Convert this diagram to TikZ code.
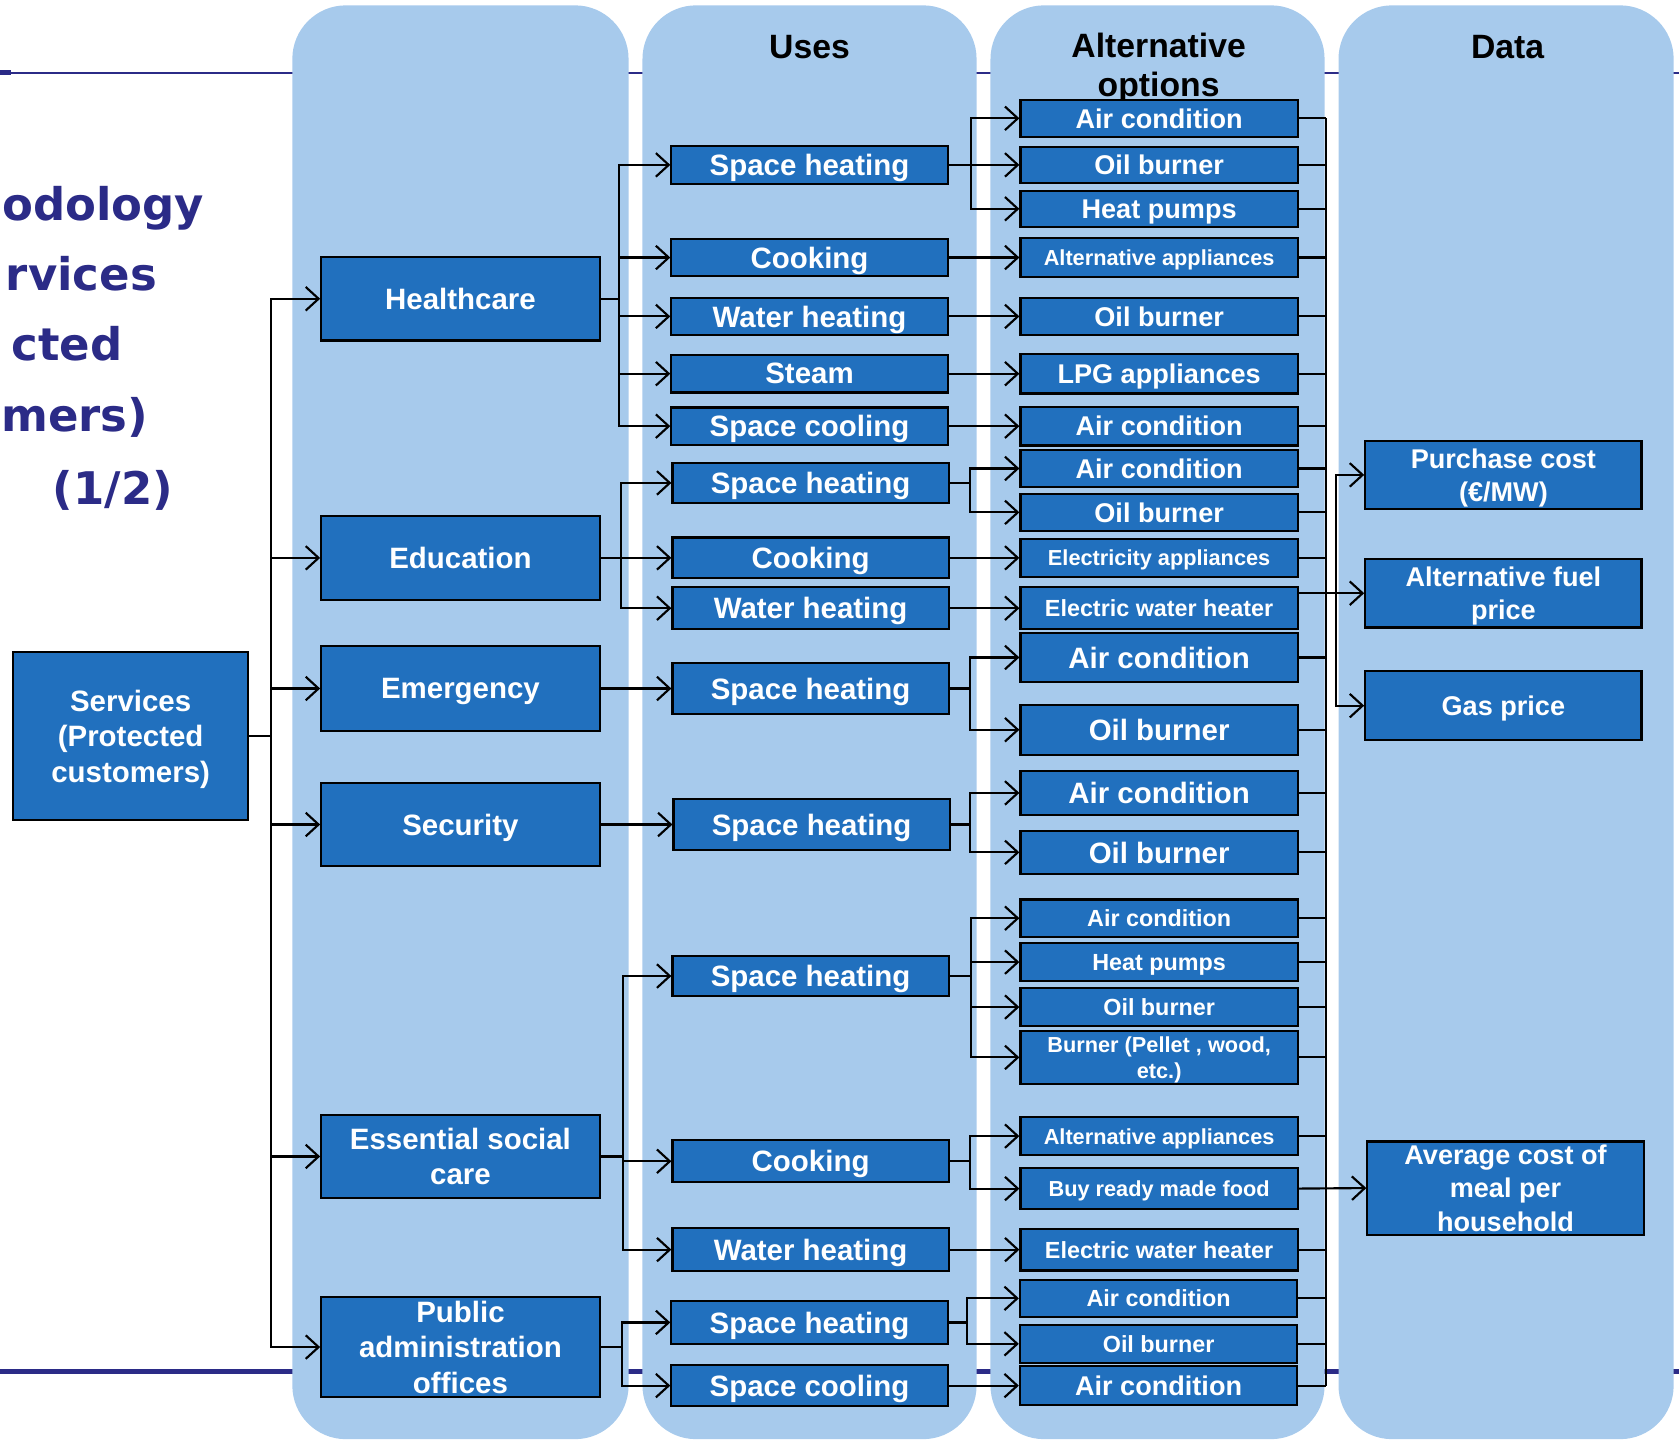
\documentclass[tikz,border=0pt]{standalone}
\usepackage{fontspec}
\setmainfont{Liberation Sans}
\newfontfamily\titlefont{DejaVu Sans}
\usetikzlibrary{arrows.meta}
\definecolor{colsfondo}{RGB}{167,202,236}
\definecolor{blusc}{RGB}{33,112,190}
\definecolor{navy}{RGB}{43,43,135}
\newcommand{\sizeH}{\fontsize{31.5}{36}\selectfont}
\newcommand{\sizeT}{\fontsize{42}{66}\selectfont}
\newcommand{\sizeL}{\fontsize{27.5}{33}\selectfont}
\newcommand{\sizeM}{\fontsize{25.3}{31}\selectfont}
\newcommand{\sizeS}{\fontsize{21.8}{26}\selectfont}
\newcommand{\sizeXS}{\fontsize{20.3}{24}\selectfont}

\begin{document}
\begin{tikzpicture}[x=1pt, y=-1pt,
    colonna/.style={fill=colsfondo, rounded corners=50pt},
    scatola/.style={draw=black, line width=2pt, fill=blusc, text=white, font=\bfseries\sizeL, align=center, inner sep=0pt, text depth=0pt, minimum width=258pt},
    cat/.style={scatola, minimum width=260pt, minimum height=78pt},
    uso/.style={scatola, minimum height=35pt},
    alt/.style={scatola, minimum width=259pt, minimum height=35pt, font=\bfseries\sizeM},
    dato/.style={scatola, minimum height=64pt, font=\bfseries\sizeM},
    freccia/.style={line width=2pt, -{Straight Barb[length=12pt, width=22pt]}},
    linea/.style={line width=2pt},
    titolo/.style={anchor=base east, text=navy, font=\titlefont\bfseries\sizeT},
    intest/.style={font=\bfseries\sizeH, align=center}]
    \useasboundingbox (0,0) rectangle (1568,1344);
    %disegno linee di sfondo
        \draw[navy, line width=2pt] (0,68) -- (1568,68);
        \fill[navy] (0,65.5) rectangle (10,70.5);
        \draw[navy, line width=5pt] (0,1281) -- (1568,1281);
    %disegno colonne
        \fill[colonna] (273,5) rectangle (587,1344);
        \fill[colonna] (600,5) rectangle (912,1344);
        \fill[colonna] (925,5) rectangle (1237,1344);
        \fill[colonna] (1250,5) rectangle (1563,1344);
    %titolo
        \node[titolo] (t1) at (194,206) {odology};
        \node[titolo] (t2) at (150,271) {rvices};
        \node[titolo] (t3) at (118,337) {cted};
        \node[titolo] (t4) at (142,403) {mers)};
        \node[titolo] (t5) at (165,471) {(1/2)};
    %intestazioni
        \node[intest] (husi) at (756,44) {Uses};
        \node[intest] (halt) at (1082,64) {Alternative\\options};
        \node[intest] (hdati) at (1408,44) {Data};
    %servizi e categorie
        \node[scatola, minimum width=220pt, minimum height=157pt] (serv) at (122,687.5) {Services\\(Protected\\customers)};
        \node[cat] (health) at (430,279) {Healthcare};
        \node[cat] (edu) at (430,521) {Education};
        \node[cat, minimum height=79pt] (emer) at (430,643) {Emergency};
        \node[cat, minimum height=77pt] (secu) at (430,770) {Security};
        \node[cat] (social) at (430,1080) {Essential social\\care};
        \node[cat, minimum height=94pt] (pubadm) at (430,1258) {Public\\administration\\offices};
    %usi
        \node[uso] (hsh) at (756,154) {Space heating};
        \node[uso] (hcook) at (756,240.5) {Cooking};
        \node[uso] (hwh) at (756,295.5) {Water heating};
        \node[uso] (hsteam) at (756,349) {Steam};
        \node[uso] (hsc) at (756,398) {Space cooling};
        \node[uso, minimum height=38pt] (esh) at (757,451) {Space heating};
        \node[uso, minimum height=38pt] (ecook) at (757,521) {Cooking};
        \node[uso, minimum height=39pt] (ewh) at (757,568) {Water heating};
        \node[uso, minimum height=48pt] (emsh) at (757,643) {Space heating};
        \node[uso, minimum height=47pt] (sesh) at (758,770) {Space heating};
        \node[uso, minimum height=37pt] (ssh) at (757,911.5) {Space heating};
        \node[uso, minimum height=39pt] (scook) at (757,1084.5) {Cooking};
        \node[uso, minimum height=40pt] (swh) at (757,1167) {Water heating};
        \node[uso, minimum height=40pt] (psh) at (756,1235) {Space heating};
        \node[uso, minimum height=38pt] (psc) at (756,1294) {Space cooling};
    %opzioni alternative
        \node[alt] (hsh-ac) at (1082.5,110.5) {Air condition};
        \node[alt, minimum height=34pt] (hsh-ob) at (1082.5,154) {Oil burner};
        \node[alt, minimum height=34pt] (hsh-hp) at (1082.5,195) {Heat pumps};
        \node[alt, minimum height=37pt, font=\bfseries\sizeXS] (hcook-aa) at (1082.5,240.5) {Alternative appliances};
        \node[alt] (hwh-ob) at (1082.5,295.5) {Oil burner};
        \node[alt, minimum height=37pt] (hsteam-lpg) at (1082.5,349) {LPG appliances};
        \node[alt, minimum height=36pt] (hsc-ac) at (1082.5,398) {Air condition};
        \node[alt] (esh-ac) at (1082.5,437.5) {Air condition};
        \node[alt] (esh-ob) at (1082.5,478.5) {Oil burner};
        \node[alt, minimum height=36pt, font=\bfseries\sizeXS] (ecook-ea) at (1082.5,521) {Electricity appliances};
        \node[alt, minimum height=39pt, font=\bfseries\sizeS] (ewh-ewh) at (1082.5,568) {Electric water heater};
        \node[alt, minimum height=46pt, font=\bfseries\sizeL] (emsh-ac) at (1082.5,614) {Air condition};
        \node[alt, minimum height=47pt, font=\bfseries\sizeL] (emsh-ob) at (1082.5,681.5) {Oil burner};
        \node[alt, minimum height=41pt, font=\bfseries\sizeL] (sesh-ac) at (1082.5,740.5) {Air condition};
        \node[alt, minimum height=40pt, font=\bfseries\sizeL] (sesh-ob) at (1082.5,796) {Oil burner};
        \node[alt, font=\bfseries\sizeS] (ssh-ac) at (1082.5,857.5) {Air condition};
        \node[alt, font=\bfseries\sizeS] (ssh-hp) at (1082.5,898.5) {Heat pumps};
        \node[alt, font=\bfseries\sizeS] (ssh-ob) at (1082.5,940.5) {Oil burner};
        \node[alt, minimum height=49pt, font=\bfseries\sizeXS] (ssh-bu) at (1082.5,987.5) {Burner (Pellet , wood,\\etc.)};
        \node[alt, minimum height=36pt, font=\bfseries\sizeXS] (scook-aa) at (1082.5,1061) {Alternative appliances};
        \node[alt, minimum height=38pt, font=\bfseries\sizeXS] (scook-bf) at (1082.5,1110) {Buy ready made food};
        \node[alt, minimum height=39pt, font=\bfseries\sizeS] (swh-ewh) at (1082.5,1167) {Electric water heater};
        \node[alt, font=\bfseries\sizeS] (psh-ac) at (1082,1212.5) {Air condition};
        \node[alt, minimum height=36pt, font=\bfseries\sizeS] (psh-ob) at (1082,1255) {Oil burner};
        \node[alt, minimum height=36pt] (psc-ac) at (1082,1294) {Air condition};
    %dati
        \node[dato, minimum height=63pt] (purch) at (1404,443.5) {Purchase cost\\(€/MW)};
        \node[dato] (fuel) at (1404,554) {Alternative fuel\\price};
        \node[dato] (gas) at (1404,659) {Gas price};
        \node[dato, minimum height=87pt] (meal) at (1406,1109.5) {Average cost of\\meal per\\household};
    %tronco principale
        \coordinate (tr) at (253,687.5);
        \draw[linea] (serv.east) -- (tr);
        \draw[freccia] (tr) |- (health.west);
        \draw[freccia] (tr) |- (edu.west);
        \draw[freccia] (tr) |- (emer.west);
        \draw[freccia] (tr) |- (secu.west);
        \draw[freccia] (tr) |- (social.west);
        \draw[freccia] (tr) |- (pubadm.west);
    %categorie verso usi
        \coordinate (hf) at (578,279);
        \draw[linea] (health.east) -- (hf);
        \draw[freccia] (hf) |- (hsh.west);
        \draw[freccia] (hf) |- (hcook.west);
        \draw[freccia] (hf) |- (hwh.west);
        \draw[freccia] (hf) |- (hsteam.west);
        \draw[freccia] (hf) |- (hsc.west);
        \coordinate (ef) at (580,521);
        \draw[linea] (edu.east) -- (ef);
        \draw[freccia] (ef) |- (esh.west);
        \draw[freccia] (ef) -- (ecook.west);
        \draw[freccia] (ef) |- (ewh.west);
        \draw[freccia] (emer.east) -- (emsh.west);
        \draw[freccia] (secu.east) -- (sesh.west);
        \coordinate (sf) at (582,1080);
        \draw[linea] (social.east) -- (sf);
        \draw[freccia] (sf) |- (ssh.west);
        \draw[freccia] (sf) |- (scook.west);
        \draw[freccia] (sf) |- (swh.west);
        \coordinate (pf) at (581,1258);
        \draw[linea] (pubadm.east) -- (pf);
        \draw[freccia] (pf) |- (psh.west);
        \draw[freccia] (pf) |- (psc.west);
    %usi verso opzioni
        \coordinate (hshf) at (907,154);
        \draw[linea] (hsh.east) -- (hshf);
        \draw[freccia] (hshf) |- (hsh-ac.west);
        \draw[freccia] (hshf) -- (hsh-ob.west);
        \draw[freccia] (hshf) |- (hsh-hp.west);
        \draw[freccia] (hcook.east) -- (hcook-aa.west);
        \draw[freccia] (hwh.east) -- (hwh-ob.west);
        \draw[freccia] (hsteam.east) -- (hsteam-lpg.west);
        \draw[freccia] (hsc.east) -- (hsc-ac.west);
        \coordinate (eshf) at (906,451);
        \draw[linea] (esh.east) -- (eshf);
        \draw[freccia] (eshf) |- (esh-ac.west);
        \draw[freccia] (eshf) |- (esh-ob.west);
        \draw[freccia] (ecook.east) -- (ecook-ea.west);
        \draw[freccia] (ewh.east) -- (ewh-ewh.west);
        \coordinate (emshf) at (906,643);
        \draw[linea] (emsh.east) -- (emshf);
        \draw[freccia] (emshf) |- (emsh-ac.west);
        \draw[freccia] (emshf) |- (emsh-ob.west);
        \coordinate (seshf) at (906,770);
        \draw[linea] (sesh.east) -- (seshf);
        \draw[freccia] (seshf) |- (sesh-ac.west);
        \draw[freccia] (seshf) |- (sesh-ob.west);
        \coordinate (sshf) at (907,911.5);
        \draw[linea] (ssh.east) -- (sshf);
        \draw[freccia] (sshf) |- (ssh-ac.west);
        \draw[freccia] (sshf) |- (ssh-hp.west);
        \draw[freccia] (sshf) |- (ssh-ob.west);
        \draw[freccia] (sshf) |- (ssh-bu.west);
        \coordinate (scookf) at (906,1084.5);
        \draw[linea] (scook.east) -- (scookf);
        \draw[freccia] (scookf) |- (scook-aa.west);
        \draw[freccia] (scookf) |- (scook-bf.west);
        \draw[freccia] (swh.east) -- (swh-ewh.west);
        \coordinate (pshf) at (903,1235);
        \draw[linea] (psh.east) -- (pshf);
        \draw[freccia] (pshf) |- (psh-ac.west);
        \draw[freccia] (pshf) |- (psh-ob.west);
        \draw[freccia] (psc.east) -- (psc-ac.west);
    %collettore verso dati
        \coordinate (coll) at (1238,0);
        \draw[linea] (hsh-ac.east -| coll) -- (psc-ac.east -| coll);
        \draw[linea] (hsh-ac.east) -- (hsh-ac.east -| coll)  (hsh-ob.east) -- (hsh-ob.east -| coll)
            (hsh-hp.east) -- (hsh-hp.east -| coll)  (hcook-aa.east) -- (hcook-aa.east -| coll)
            (hwh-ob.east) -- (hwh-ob.east -| coll)  (hsteam-lpg.east) -- (hsteam-lpg.east -| coll)
            (hsc-ac.east) -- (hsc-ac.east -| coll)  (esh-ac.east) -- (esh-ac.east -| coll)
            (esh-ob.east) -- (esh-ob.east -| coll)  (ecook-ea.east) -- (ecook-ea.east -| coll)
            (emsh-ac.east) -- (emsh-ac.east -| coll)  (emsh-ob.east) -- (emsh-ob.east -| coll)
            (sesh-ac.east) -- (sesh-ac.east -| coll)  (sesh-ob.east) -- (sesh-ob.east -| coll)
            (ssh-ac.east) -- (ssh-ac.east -| coll)  (ssh-hp.east) -- (ssh-hp.east -| coll)
            (ssh-ob.east) -- (ssh-ob.east -| coll)  (ssh-bu.east) -- (ssh-bu.east -| coll)
            (scook-aa.east) -- (scook-aa.east -| coll)  (swh-ewh.east) -- (swh-ewh.east -| coll)
            (psh-ac.east) -- (psh-ac.east -| coll)  (psh-ob.east) -- (psh-ob.east -| coll)
            (psc-ac.east) -- (psc-ac.east -| coll);
        \coordinate (dist) at (1248,0);
        \draw[freccia] (ewh-ewh.east |- fuel.west) -- (fuel.west);
        \draw[freccia] (fuel.west -| dist) |- (purch.west);
        \draw[freccia] (fuel.west -| dist) |- (gas.west);
        \draw[freccia] (scook-bf.east) -- (meal.west);
\end{tikzpicture}
\end{document}
